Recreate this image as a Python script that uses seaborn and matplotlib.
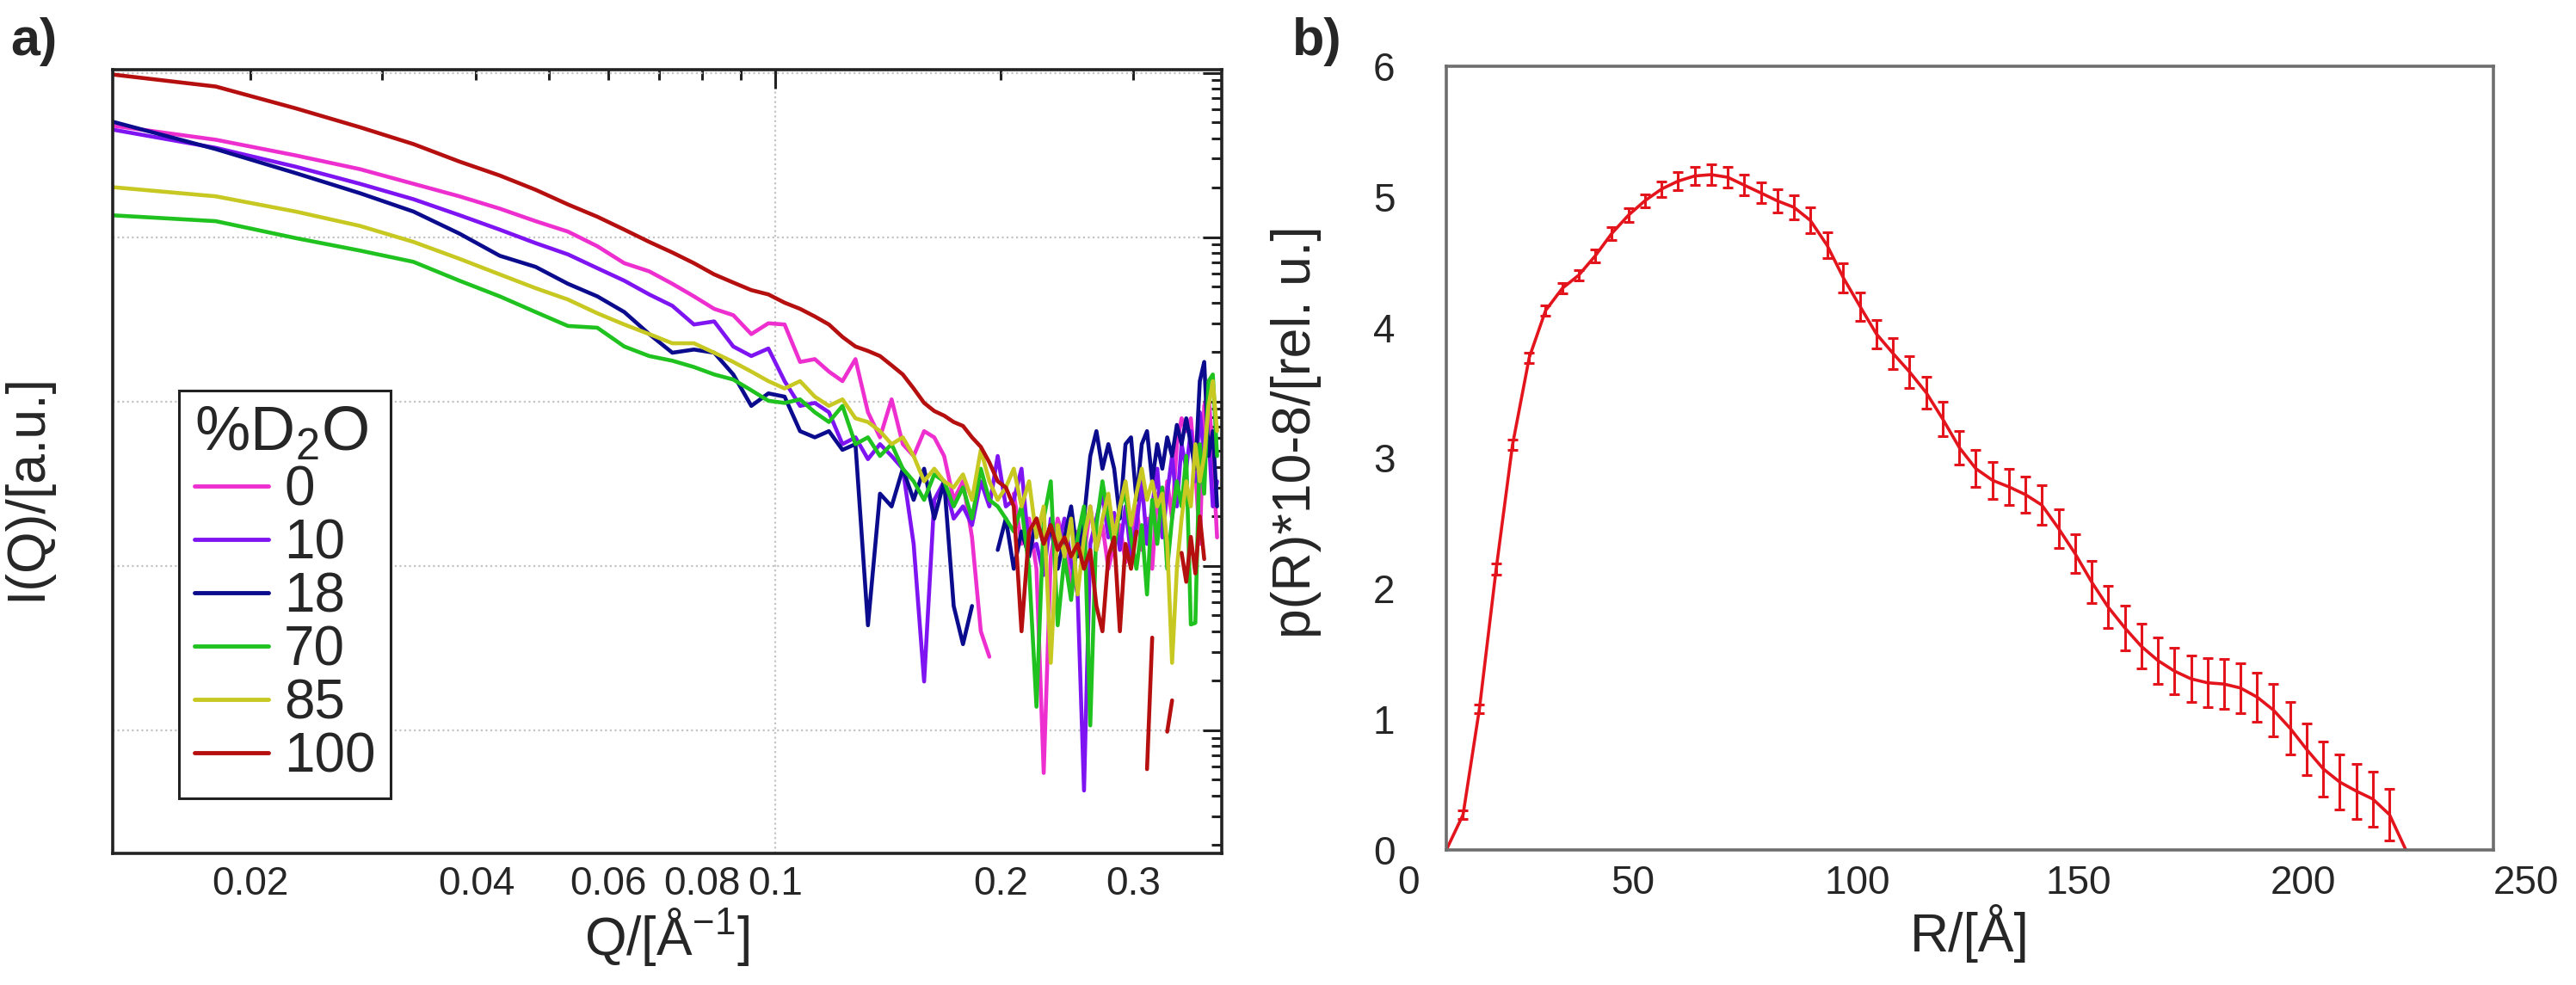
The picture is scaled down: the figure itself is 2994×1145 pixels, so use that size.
import numpy as np
import pandas as pd
import matplotlib
matplotlib.use("Agg")
import matplotlib.pyplot as plt
import seaborn as sns
from matplotlib.lines import Line2D
from matplotlib.ticker import (FixedLocator, FixedFormatter, LogLocator,
                               NullFormatter)
from matplotlib.transforms import ScaledTranslation

# ---------------- data: panel a) ----------------
Q = [0.013, 0.018, 0.023, 0.028, 0.033, 0.038, 0.043, 0.048, 0.053, 0.058,
     0.063, 0.068, 0.073, 0.078, 0.083, 0.088, 0.093, 0.098, 0.103, 0.108,
     0.113, 0.118, 0.123, 0.128, 0.133, 0.138, 0.143, 0.148, 0.153, 0.158,
     0.163, 0.168, 0.173, 0.178, 0.183, 0.188, 0.193, 0.198, 0.203, 0.208,
     0.213, 0.218, 0.223, 0.228, 0.233, 0.238, 0.243, 0.248, 0.253, 0.258,
     0.263, 0.268, 0.273, 0.278, 0.283, 0.288, 0.293, 0.298, 0.303, 0.308,
     0.313, 0.318, 0.323, 0.328, 0.333, 0.338, 0.343, 0.348, 0.353, 0.358,
     0.363, 0.368, 0.373, 0.378, 0.383, 0.388]

I_0 = [479, 391, 314, 259, 211, 177, 149, 125, 108, 88,
       69.4, 61.9, 52, 43.6, 36.6, 33.5, 25.7, 29.9, 29.4, 17.4,
       18.1, 15.2, 13.3, 18.1, 8.6, 6.05, 10.3, 5.5, 4.66, 6.6,
       6.05, 4.66, 2.52, 3.27, 1.49, 0.40, 0.28, None, None, 2.75,
       1.36, 1.94, 0.96, 0.055, 1.14, 1.94, 1.36, 0.74, 1.62, 1.14,
       2.3, 1.25, 1.77, 0.96, 1.36, 1.77, 1.05, 1.49, 2.3, 1.25,
       1.94, 0.96, 2.75, 1.62, 3.27, 1.94, 5.5, 7.9, 6.6, 7.9,
       3.9, 1.36, 9.4, 11.2, 4.66, 1.49]
I_10 = [454, 349, 268, 211, 170, 136, 111, 91.9, 78.5, 64.7,
        54.3, 44.8, 38.2, 29.4, 30.7, 21.6, 18.9, 21.0, 13.3, 9.4,
        9.8, 8.6, 5.5, 6.05, 4.46, 5.5, 4.66, 3.9, 1.36, 0.198,
        2.52, 3.27, 1.94, 2.3, 1.77, 3.27, 2.3, 4.66, 2.3, 2.52,
        3.9, 1.25, 1.36, 0.88, 1.94, 1.25, 1.94, 1.05, 0.67, 0.043,
        1.36, 1.94, 2.75, 1.49, 2.1, 1.25, 2.3, 1.14, 1.77, 3.27,
        1.36, 2.3, 3.9, 1.49, 2.75, 4.66, 2.3, 5.5, 3.9, 6.6,
        3.27, 8.6, 4.66, 6.05, 2.3, 3.27]
I_18 = [509, 343, 245, 185, 143, 105, 77, 65.9, 52, 43.6,
        35, 25.7, 19.8, 20.7, 19.8, 14.6, 9.4, 11.2, 10.7, 6.6,
        6.05, 6.6, 5.08, 5.5, 0.435, 2.75, 2.3, 3.9, 2.52, 3.9,
        1.94, 3.27, 0.57, 0.334, 0.57, None, None, 1.25, 1.94, 0.96,
        1.62, 1.14, 1.94, 1.36, 1.77, 0.96, 1.49, 2.3, 1.14, 1.94,
        4.66, 6.6, 3.9, 5.5, 3.9, 1.94, 5.5, 6.05, 2.52, 5.5,
        6.6, 3.27, 5.5, 3.9, 6.05, 4.66, 7.2, 5.5, 7.9, 5.5,
        3.9, 13.3, 17.4, 4.66, 6.6, 2.3]
I_70 = [136, 125, 98.6, 82.8, 70.7, 54.3, 43.6, 35, 28.8, 28.1,
        21.6, 18.9, 17.7, 16.2, 14.6, 13.6, 11.7, 10.1, 9.8, 10.3,
        8.6, 7.5, 9.4, 5.5, 6.05, 4.66, 5.5, 3.9, 3.27, 2.52,
        3.6, 3.27, 2.3, 3.0, 1.94, 3.9, 2.52, 2.3, 1.94, 1.62,
        2.3, 0.96, 0.139, 1.94, 3.27, 0.435, 1.14, 0.62, 1.49, 2.3,
        0.107, 1.77, 3.27, 1.94, 1.25, 2.3, 2.75, 1.49, 0.96, 1.77,
        0.67, 2.52, 1.36, 3.0, 0.96, 1.94, 3.27, 2.3, 4.66, 0.44,
        0.45, 5.5, 2.75, 13.3, 14.6, 4.66]
I_85 = [202, 177, 143, 117, 93.5, 73.8, 59.3, 48.9, 41.7, 34.4,
        29.4, 25.7, 22.6, 22.6, 19.8, 17.4, 15.2, 13.3, 12.0, 13.3,
        10.7, 9.4, 10.3, 7.9, 7.5, 6.6, 5.5, 6.05, 4.66, 3.27,
        3.9, 3.27, 3.0, 3.6, 2.52, 5.08, 3.27, 2.52, 3.0, 3.9,
        2.3, 3.27, 1.49, 2.3, 0.257, 1.77, 1.14, 1.94, 0.67, 1.49,
        2.3, 1.25, 1.94, 2.75, 1.49, 2.3, 3.27, 1.77, 2.75, 3.9,
        2.52, 3.27, 2.3, 2.75, 1.36, 0.257, 0.96, 1.94, 3.27, 2.3,
        5.5, 3.27, 4.66, 9.4, 13.3, 6.6]
I_100 = [980, 824, 607, 466, 368, 288, 237, 194, 158, 133,
         111, 93.5, 80.6, 69.4, 59.3, 52.9, 47.6, 44.8, 39.9, 36.6,
         32.9, 29.4, 24.7, 21.6, 20.3, 18.9, 16.6, 14.6, 12.0, 9.8,
         8.75, 8.2, 7.5, 7.1, 6.05, 5.3, 4.26, 3.27, 3.0, 2.3,
         0.40, 1.62, 1.94, 1.36, 1.77, 1.25, 1.49, 1.14, 1.36, 0.96,
         1.25, 0.57, 0.40, 1.14, 1.49, 0.40, 1.36, 0.96, 1.62, None,
         0.058, 0.366, None, None, 0.098, 0.152, None, 1.2, 0.8, 1.5,
         0.9, 2.0, 1.1, None, None, None]

D2O_LABELS = ["0", "10", "18", "70", "85", "100"]
SERIES = [I_0, I_10, I_18, I_70, I_85, I_100]
COLORS = ["#EE2FD0", "#7E14F2", "#0B0B8E", "#1FC21F", "#C8C822", "#B5100F"]

# ---------------- data: panel b) ----------------
R = [0, 4.0, 7.9, 11.9, 15.8, 19.8, 23.7, 27.7, 31.6, 35.6,
     39.5, 43.5, 47.4, 51.4, 55.3, 59.3, 63.2, 67.2, 71.1, 75.1,
     79.0, 83.0, 86.9, 90.9, 94.8, 98.8, 102.7, 106.7, 110.6, 114.6,
     118.5, 122.5, 126.4, 130.4, 134.3, 138.3, 142.2, 146.2, 150.1, 154.1,
     158.0, 162.0, 165.9, 169.9, 173.8, 177.8, 181.7, 185.7, 189.6, 193.6,
     197.5, 201.5, 205.4, 209.4, 213.3, 217.3, 221.2, 225.2, 229.1]
P = [0, 0.27, 1.08, 2.15, 3.1, 3.77, 4.13, 4.3, 4.4, 4.55,
     4.72, 4.86, 4.97, 5.06, 5.12, 5.16, 5.17, 5.15, 5.09, 5.03,
     4.97, 4.92, 4.82, 4.63, 4.38, 4.16, 3.95, 3.8, 3.66, 3.5,
     3.3, 3.08, 2.92, 2.83, 2.78, 2.72, 2.64, 2.46, 2.27, 2.05,
     1.86, 1.7, 1.56, 1.45, 1.37, 1.31, 1.28, 1.27, 1.24, 1.17,
     1.07, 0.93, 0.77, 0.62, 0.52, 0.45, 0.39, 0.27, 0.0]
P_ERR = [0, 0.03, 0.03, 0.04, 0.04, 0.04, 0.04, 0.04, 0.04, 0.05,
         0.05, 0.05, 0.05, 0.06, 0.07, 0.07, 0.08, 0.08, 0.08, 0.08,
         0.09, 0.09, 0.1, 0.1, 0.11, 0.11, 0.11, 0.12, 0.12, 0.12,
         0.13, 0.13, 0.14, 0.14, 0.14, 0.14, 0.15, 0.15, 0.15, 0.16,
         0.16, 0.17, 0.17, 0.18, 0.18, 0.18, 0.19, 0.19, 0.19, 0.19,
         0.2, 0.2, 0.2, 0.21, 0.21, 0.21, 0.21, 0.2, 0]
R_TICKS = [0, 50, 100, 150, 200, 250]
P_TICKS = [0, 1, 2, 3, 4, 5, 6]

# ---------------- style ----------------
sns.set_style("white")
plt.rcParams["font.family"] = ["Liberation Sans", "DejaVu Sans"]
plt.rcParams["mathtext.fontset"] = "custom"
plt.rcParams["mathtext.rm"] = "Liberation Sans"
plt.rcParams["mathtext.it"] = "Liberation Sans:italic"
plt.rcParams["mathtext.bf"] = "Liberation Sans:bold"

fig = plt.figure(figsize=(29.94, 11.45), dpi=100)
fig.patch.set_facecolor("white")
ax1 = fig.add_axes([0.04365, 0.13362, 0.43063, 0.7959])
ax2 = fig.add_axes([0.56146, 0.13712, 0.40648, 0.79563])

# long table with segment ids (gaps where a value is missing)
rows = []
for lab, vals in zip(D2O_LABELS, SERIES):
    seg = 0
    for q, v in zip(Q, vals):
        if v is None:
            seg += 1
            continue
        rows.append({"Q": q, "I": v, "D2O": lab, "seg": f"{lab}_{seg}"})
df = pd.DataFrame(rows)

ax1.set_xscale("log")
ax1.set_yscale("log")
sns.lineplot(data=df, x="Q", y="I", hue="D2O", hue_order=D2O_LABELS,
             palette=dict(zip(D2O_LABELS, COLORS)), units="seg",
             estimator=None, sort=False, lw=3.3, ax=ax1, legend=False)

ax1.set_xlim(0.01311, 0.3936)
ax1.set_ylim(10 ** -1.749, 10 ** 3.02)

ax1.xaxis.set_major_locator(FixedLocator([0.1]))
ax1.xaxis.set_major_formatter(FixedFormatter(["0.1"]))
minor_x = [0.02, 0.03, 0.04, 0.05, 0.06, 0.07, 0.08, 0.09, 0.2, 0.3]
minor_lbl = ["0.02", "", "0.04", "", "0.06", "", "0.08", "", "0.2", "0.3"]
ax1.xaxis.set_minor_locator(FixedLocator(minor_x))
ax1.xaxis.set_minor_formatter(FixedFormatter(minor_lbl))
ax1.yaxis.set_major_locator(LogLocator(base=10, numticks=20))
ax1.yaxis.set_minor_locator(LogLocator(base=10, subs=np.arange(2, 10), numticks=20))
ax1.yaxis.set_major_formatter(NullFormatter())
ax1.yaxis.set_minor_formatter(NullFormatter())

ax1.tick_params(axis="both", which="major", direction="in", length=16,
                width=2.2, top=True, right=True, labelsize=33, pad=10,
                color="#222222")
ax1.tick_params(axis="both", which="minor", direction="in", length=8.5,
                width=2.2, top=True, right=True, labelsize=33, pad=10,
                color="#222222")
ax1.grid(True, which="major", color="#c4c4c4", linestyle=(0, (1, 1.5)), lw=1.6)
for sp in ax1.spines.values():
    sp.set_linewidth(2.6)
    sp.set_color("#222222")

ax1.set_xlabel("Q/[Å$^{-1}$]", fontsize=45, labelpad=2)
ax1.set_ylabel("I(Q)/[a.u.]", fontsize=45)
ax1.yaxis.set_label_coords(-0.055, 0.467)

handles = [Line2D([], [], color=c, lw=3.5) for c in COLORS]
leg = ax1.legend(handles, D2O_LABELS, title="%D$_2$O", loc="lower left",
                 bbox_to_anchor=(0.06, 0.07), borderaxespad=0,
                 fontsize=46, title_fontsize=52, handlelength=1.35,
                 handletextpad=0.28, labelspacing=0.03, borderpad=0.28,
                 frameon=True, fancybox=False, edgecolor="#222222",
                 framealpha=1, alignment="left")
leg.get_frame().set_linewidth(2.2)

# ---------------- panel b ----------------
red = "#E3141C"
sns.lineplot(x=R, y=P, color=red, lw=2.6, ax=ax2)
ax2.errorbar(R, P, yerr=P_ERR, fmt="none", ecolor=red, elinewidth=2.2,
             capsize=4.5, capthick=2.2)
ax2.set_xlim(0, 250)
ax2.set_ylim(0, 6)
ax2.set_xticks(R_TICKS)
ax2.set_yticks(P_TICKS)
ax2.tick_params(axis="x", direction="in", length=10, width=2, color="#6e6e6e",
                labelsize=33, pad=12)
ax2.tick_params(axis="y", length=0, labelsize=33, pad=43)
for sp in ax2.spines.values():
    sp.set_linewidth(2.6)
    sp.set_color("#6e6e6e")
ax2.set_xlabel("R/[Å]", fontsize=45, labelpad=2)
ax2.set_ylabel("p(R)*10-8/[rel. u.]", fontsize=45)
ax2.yaxis.set_label_coords(-0.119, 0.533)
# labels in the original are spread slightly wider than their ticks
offs = [-44, -27, -9, 5, 22, 38]
for lbl, off in zip(ax2.get_xticklabels(), offs):
    lbl.set_transform(lbl.get_transform() + ScaledTranslation(off / 100, 0, fig.dpi_scale_trans))

fig.text(0.004, 1 - 20 / 1145, "a)", fontsize=44, fontweight="bold",
         va="top", ha="left")
fig.text(0.5015, 1 - 20 / 1145, "b)", fontsize=44, fontweight="bold",
         va="top", ha="left")

fig.savefig("out.png", dpi=100, facecolor="white")
